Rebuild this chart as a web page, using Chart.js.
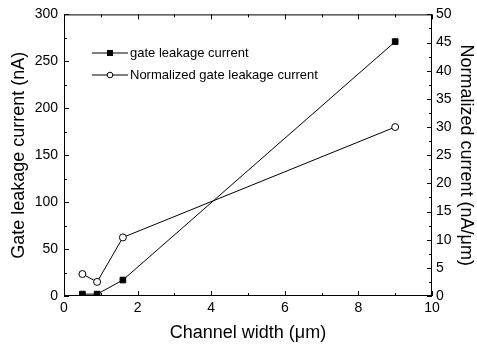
<!DOCTYPE html>
<html>
<head>
<meta charset="utf-8">
<script src="https://cdn.jsdelivr.net/npm/chart.js@4"></script>
<style>
  html, body { margin: 0; padding: 0; background: #fff; }
  canvas { display: block; }
</style>
</head>
<body>
<canvas id="chart" width="477" height="347"></canvas>
<script>
// channel width (um)
const channelWidth = [0.5, 0.9, 1.6, 9];
// gate leakage current (nA), left axis
const leakage = [2, 2, 17, 271];
// normalized gate leakage current (nA/um), right axis
const normalized = [3.9, 2.5, 10.4, 30];

const xTicks = [0, 2, 4, 6, 8, 10];
const yLeftTicks = [0, 50, 100, 150, 200, 250, 300];
const yRightTicks = [0, 5, 10, 15, 20, 25, 30, 35, 40, 45, 50];

const legendLabels = ['gate leakage current', 'Normalized gate leakage current'];

const FONT = 'Liberation Sans, Arial, sans-serif';

// frame, inward ticks (major + minor), legend
const framePlugin = {
  id: 'frame',
  afterDraw(chart) {
    const ctx = chart.ctx;
    const a = chart.chartArea;
    const sx = chart.scales.x, sy = chart.scales.y, sy1 = chart.scales.y1;
    ctx.save();
    ctx.strokeStyle = '#000';
    ctx.lineWidth = 1;
    ctx.strokeRect(a.left + 0.5, a.top + 0.5, a.right - a.left - 1, a.bottom - a.top - 1);

    ctx.beginPath();
    for (let v = 0; v <= 10; v += 1) {
      const px = Math.round(sx.getPixelForValue(v)) + 0.5;
      const len = v % 2 === 0 ? 5 : 3;
      ctx.moveTo(px, a.bottom); ctx.lineTo(px, a.bottom - len);
      ctx.moveTo(px, a.top); ctx.lineTo(px, a.top + len);
    }
    for (let v = 0; v <= 300; v += 25) {
      const py = Math.round(sy.getPixelForValue(v)) + 0.5;
      const len = v % 50 === 0 ? 5 : 3;
      ctx.moveTo(a.left, py); ctx.lineTo(a.left + len, py);
    }
    for (let v = 0; v <= 50; v += 2.5) {
      const py = Math.round(sy1.getPixelForValue(v)) + 0.5;
      const len = v % 5 === 0 ? 5 : 3;
      ctx.moveTo(a.right, py); ctx.lineTo(a.right - len, py);
    }
    ctx.stroke();

    // legend
    ctx.font = '13px ' + FONT;
    ctx.textBaseline = 'middle';
    ctx.fillStyle = '#000';
    const rows = [52.5, 74.5];
    rows.forEach((y, i) => {
      ctx.beginPath();
      ctx.moveTo(92, y + 0.5); ctx.lineTo(128, y + 0.5);
      ctx.stroke();
      if (i === 0) {
        ctx.fillStyle = '#000';
        ctx.fillRect(107, y - 2.5, 6, 6);
      } else {
        ctx.beginPath();
        ctx.arc(110, y + 0.5, 2.8, 0, Math.PI * 2);
        ctx.fillStyle = '#fff';
        ctx.fill();
        ctx.stroke();
      }
      ctx.fillStyle = '#000';
      ctx.fillText(legendLabels[i], 130, y + 1);
    });
    ctx.restore();
  }
};

new Chart(document.getElementById('chart'), {
  type: 'scatter',
  data: {
    datasets: [
      {
        label: legendLabels[0],
        data: channelWidth.map((x, i) => ({ x: x, y: leakage[i] })),
        showLine: true,
        borderColor: '#000',
        borderWidth: 1,
        backgroundColor: '#000',
        pointStyle: 'rect',
        pointRadius: 4,
        yAxisID: 'y'
      },
      {
        label: legendLabels[1],
        data: channelWidth.map((x, i) => ({ x: x, y: normalized[i] })),
        showLine: true,
        borderColor: '#000',
        borderWidth: 1,
        backgroundColor: '#fff',
        pointStyle: 'circle',
        pointRadius: 3.5,
        pointBorderWidth: 1,
        yAxisID: 'y1'
      }
    ]
  },
  options: {
    responsive: false,
    animation: false,
    layout: { padding: { top: 14, left: 0, right: 0, bottom: 0 } },
    plugins: { legend: { display: false }, tooltip: { enabled: false } },
    scales: {
      x: {
        type: 'linear',
        min: 0, max: 10,
        afterBuildTicks: s => { s.ticks = xTicks.map(v => ({ value: v })); },
        afterFit: s => { s.height = 51; },
        grid: { display: false, drawTicks: false },
        border: { display: false },
        ticks: { color: '#000', font: { family: FONT, size: 14 }, padding: 4, maxRotation: 0 },
        title: { display: true, text: 'Channel width (μm)', color: '#000', font: { family: FONT, size: 18 }, padding: { top: 0, bottom: 3 } }
      },
      y: {
        type: 'linear',
        position: 'left',
        min: 0, max: 300,
        afterBuildTicks: s => { s.ticks = yLeftTicks.map(v => ({ value: v })); },
        afterFit: s => { s.width = 64; },
        grid: { display: false, drawTicks: false },
        border: { display: false },
        ticks: { color: '#000', font: { family: FONT, size: 14 }, padding: 6 },
        title: { display: true, text: 'Gate leakage current (nA)', color: '#000', font: { family: FONT, size: 18 }, padding: { top: 8, bottom: 0 } }
      },
      y1: {
        type: 'linear',
        position: 'right',
        min: 0, max: 50,
        afterBuildTicks: s => { s.ticks = yRightTicks.map(v => ({ value: v })); },
        afterFit: s => { s.width = 45; },
        grid: { display: false, drawTicks: false },
        border: { display: false },
        ticks: { color: '#000', font: { family: FONT, size: 14 }, padding: 4 },
        title: { display: true, text: 'Normalized current (nA/μm)', color: '#000', font: { family: FONT, size: 18 }, padding: { top: 0, bottom: 0 } }
      }
    }
  },
  plugins: [framePlugin]
});
</script>
</body>
</html>
